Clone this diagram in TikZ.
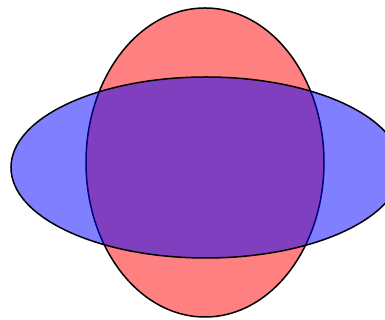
\documentclass[tikz,border=0pt]{standalone}
\begin{document}
\begin{tikzpicture}[x=1pt,y=1pt,
  redshape/.style={draw=black,line width=1.5pt,fill={rgb,255:red,255;green,128;blue,128}},
  blueshape/.style={draw=black,line width=1.5pt,fill=blue,fill opacity=0.5}]
\useasboundingbox (0,0) rectangle (385,320);
\clip (0,0) rectangle (385,320);
\path[redshape] (205,157.5) ellipse [x radius=119, y radius=154.5];
\path[blueshape] (206,152.5) ellipse [x radius=195, y radius=90.5];
\end{tikzpicture}
\end{document}
